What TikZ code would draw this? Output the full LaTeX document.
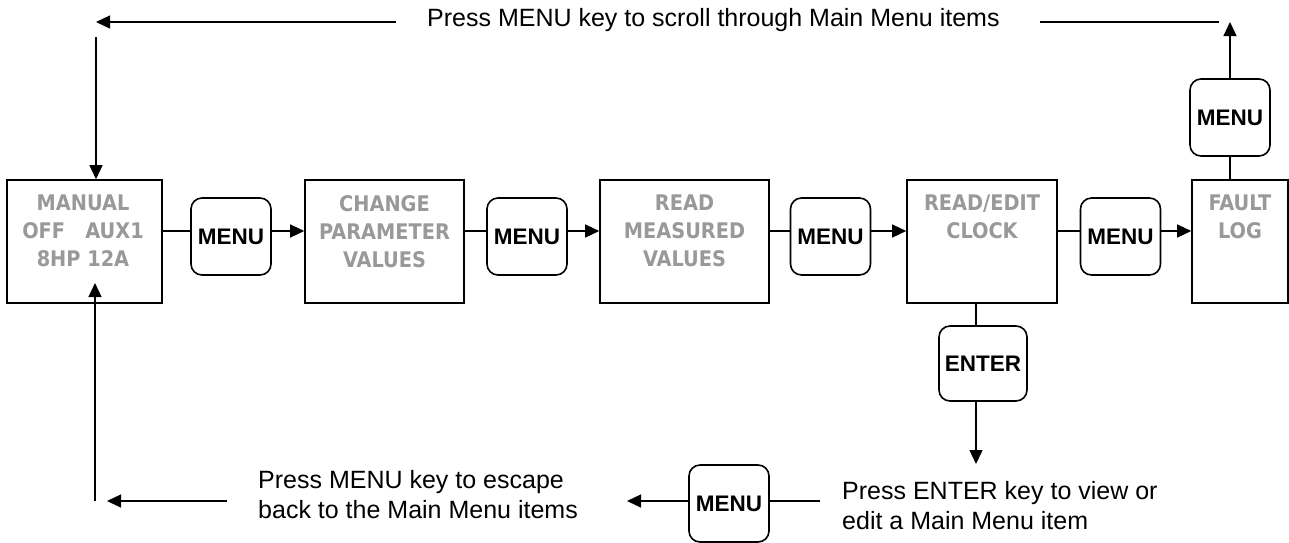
\documentclass[tikz,border=0pt]{standalone}
\usepackage{fontspec}
\setmainfont{Liberation Sans}
\newfontfamily\boxfont{DejaVu Sans Condensed Bold}
\usetikzlibrary{arrows.meta}
\definecolor{scrgray}{RGB}{153,153,153}
\tikzset{
  screen/.style={draw, line width=1.6pt, inner sep=0pt, minimum height=123pt},
  scrtext/.style={anchor=north, inner sep=0pt, align=center, text=scrgray,
    font=\boxfont\fontsize{21.5}{28}\selectfont},
  keybox/.style={draw, line width=1.6pt, rounded corners=11pt, inner sep=0pt,
    minimum width=80pt, minimum height=77pt, font=\bfseries\fontsize{22.5}{26}\selectfont},
  note/.style={inner sep=0pt, align=left, font=\fontsize{25}{30}\selectfont},
  conn/.style={line width=1.3pt},
  arr/.style={conn, -{Triangle[length=14pt,width=13pt]}},
}
\begin{document}
\begin{tikzpicture}[x=1pt,y=-1pt]
\useasboundingbox (0,0) rectangle (1289,542);
% screens
\node[screen, minimum width=155pt] (b1) at (84.5,241.5) {};
\node[screen, minimum width=159pt] (b2) at (384.5,241.5) {};
\node[screen, minimum width=169pt] (b3) at (684.5,241.5) {};
\node[screen, minimum width=150pt] (b4) at (982,241.5) {};
\node[screen, minimum width=96pt] (b5) at (1240,241.5) {};
\node[scrtext] (t1) at (83,195) {MANUAL\\OFF\ \ \ AUX1\\8HP 12A};
\node[scrtext] (t2) at (384.5,195) {CHANGE\\PARAMETER\\VALUES};
\node[scrtext] (t3) at (684.5,195) {READ\\MEASURED\\VALUES};
\node[scrtext] (t4) at (982,195) {READ/EDIT\\CLOCK};
\node[scrtext] (t5) at (1240,195) {FAULT\\LOG};
% keys
\node[keybox] (m1) at (231,236.5) {MENU};
\node[keybox] (m2) at (527,236.5) {MENU};
\node[keybox] (m3) at (830.5,236.5) {MENU};
\node[keybox] (m4) at (1120.5,236.5) {MENU};
\node[keybox] (m5) at (1230,117.5) {MENU};
\node[keybox, minimum width=88pt, minimum height=75pt] (enter) at (983,363.5) {ENTER};
\node[keybox] (m6) at (729,503.5) {MENU};
% notes
\node[note, anchor=base west] (topnote) at (427,26) {Press MENU key to scroll through Main Menu items};
\node[note, anchor=north west] (escnote) at (258,470) {Press MENU key to escape\\back to the Main Menu items};
\node[note, anchor=north west] (entnote) at (842,481) {Press ENTER key to view or\\edit a Main Menu item};
% coordinates
\coordinate (row) at (0,231);
\coordinate (tls) at (396,22);
\coordinate (tl) at (96,22);
\coordinate (tlv) at (96,37);
\coordinate (trs) at (1219,22);
\coordinate (tre) at (1040,22);
\coordinate (tr) at (1230,22);
\coordinate (ex) at (976,0);
\coordinate (et) at (976,464);
\coordinate (bs) at (820,501);
\coordinate (bt) at (627,501);
\coordinate (ls) at (227,501);
\coordinate (lt) at (107,501);
\coordinate (lv) at (95,501);
\coordinate (lvt) at (95,283);
% main row
\draw[conn] (b1.east |- row) -- (m1.west |- row);
\draw[arr] (m1.east |- row) -- (b2.west |- row);
\draw[conn] (b2.east |- row) -- (m2.west |- row);
\draw[arr] (m2.east |- row) -- (b3.west |- row);
\draw[conn] (b3.east |- row) -- (m3.west |- row);
\draw[arr] (m3.east |- row) -- (b4.west |- row);
\draw[conn] (b4.east |- row) -- (m4.west |- row);
\draw[arr] (m4.east |- row) -- (b5.west |- row);
% top loop
\draw[conn] (b5.north -| m5) -- (m5.south);
\draw[arr] (m5.north) -- (tr);
\draw[conn] (trs) -- (tre);
\draw[arr] (tls) -- (tl);
\draw[arr] (tlv) -- (b1.north -| tlv);
% enter path
\draw[conn] (b4.south -| ex) -- (enter.north -| ex);
\draw[arr] (enter.south -| ex) -- (et);
\draw[conn] (bs) -- (m6.east |- bs);
\draw[arr] (m6.west |- bs) -- (bt);
\draw[arr] (ls) -- (lt);
\draw[arr] (lv) -- (lvt);
\end{tikzpicture}
\end{document}
